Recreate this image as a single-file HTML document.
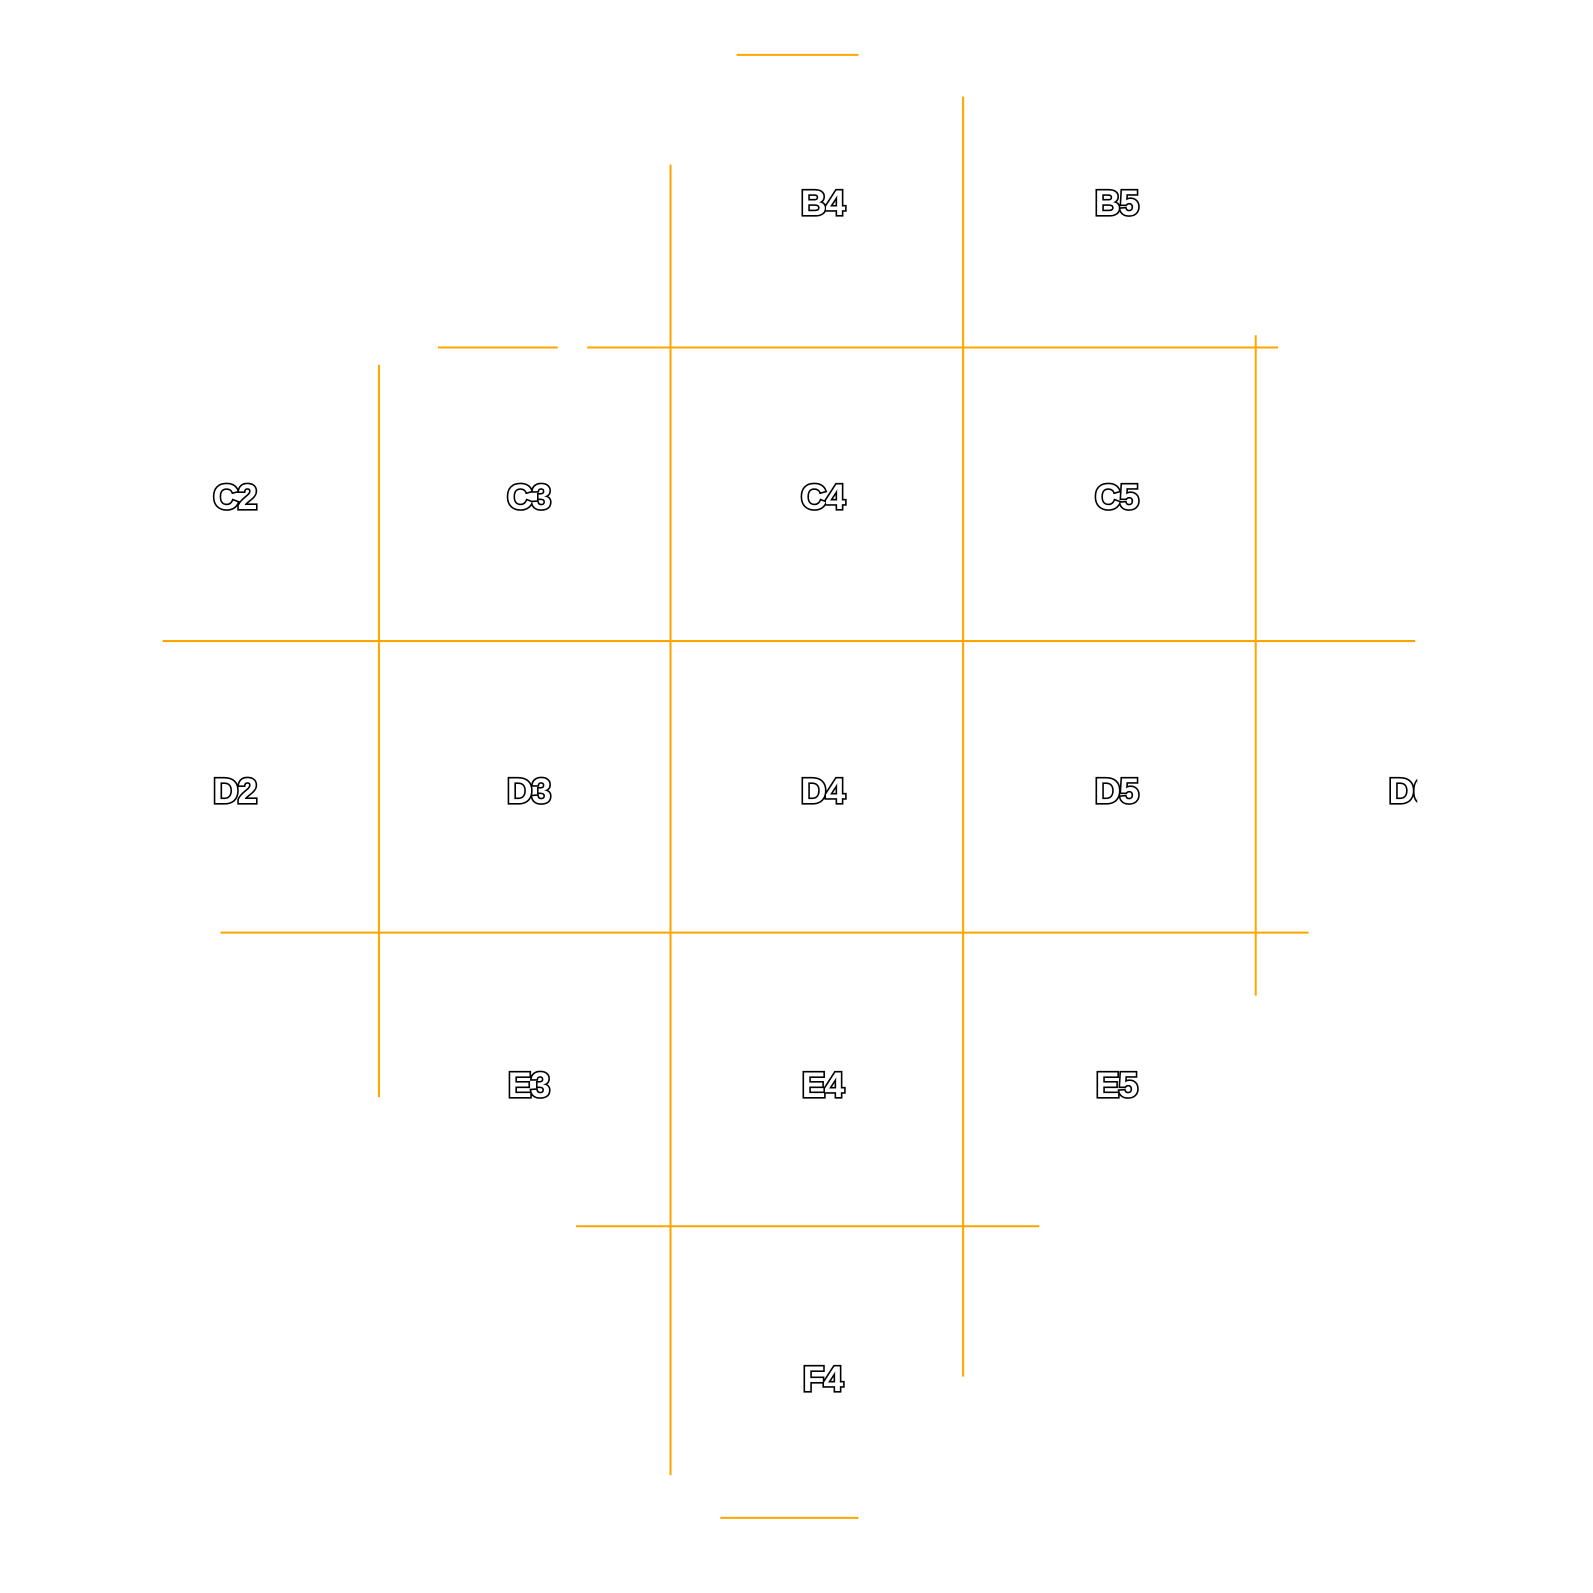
<!DOCTYPE html>
<html><head><meta charset="utf-8">
<style>
html,body{margin:0;padding:0;background:#fff;width:1593px;height:1593px;overflow:hidden}
svg{display:block}
.lbl{font-family:"Liberation Sans",sans-serif;font-weight:bold;font-size:35px;fill:#fff;stroke:#000;stroke-width:3.2px;paint-order:stroke;text-anchor:middle;dominant-baseline:central;letter-spacing:-1px}
</style></head>
<body>
<svg id="chart" width="1593" height="1593" viewBox="0 0 1593 1593" xmlns="http://www.w3.org/2000/svg">
<defs><clipPath id="clip"><rect x="0" y="0" width="1395" height="1593"/></clipPath></defs>
<g transform="scale(1.01595)">
<g id="lines"></g>
<g id="labels" clip-path="url(#clip)"></g>
</g>
</svg>
<script>
const colEdges = [373, 660, 948, 1236];
const rowEdges = [54, 342, 631, 918, 1207, 1494];
const hRows = [0, 1, 1, 2, 3, 4, 5];
const hStart = [725, 431, 578, 160, 217, 567, 709];
const hEnd = [845, 549, 1258, 1393, 1288, 1023, 845];
const vCols = [0, 1, 2, 3];
const vStart = [359, 162, 95, 330];
const vEnd = [1080, 1452, 1355, 980];
const labelNames = ["B4","B5","C2","C3","C4","C5","D2","D3","D4","D5","D6","E3","E4","E5","F4"];
const labelCols = [4,5,2,3,4,5,2,3,4,5,6,3,4,5,4];
const labelRows = [2,2,3,3,3,3,4,4,4,4,4,5,5,5,6];

const NS = "http://www.w3.org/2000/svg";
const lx = c => 231 + (c - 2) * 289.3;
const ly = r => 200 + (r - 2) * 289.3;
const lines = document.getElementById('lines');
const labels = document.getElementById('labels');
hRows.forEach((r, i) => {
  const l = document.createElementNS(NS, 'line');
  l.setAttribute('x1', hStart[i]); l.setAttribute('x2', hEnd[i]);
  l.setAttribute('y1', rowEdges[r]); l.setAttribute('y2', rowEdges[r]);
  l.setAttribute('stroke', '#FFA500'); l.setAttribute('stroke-width', '2');
  
  
  lines.appendChild(l);
});
vCols.forEach((c, i) => {
  const l = document.createElementNS(NS, 'line');
  l.setAttribute('x1', colEdges[c]); l.setAttribute('x2', colEdges[c]);
  l.setAttribute('y1', vStart[i]); l.setAttribute('y2', vEnd[i]);
  l.setAttribute('stroke', '#FFA500'); l.setAttribute('stroke-width', '2');
  
  
  lines.appendChild(l);
});
labelNames.forEach((n, i) => {
  const t = document.createElementNS(NS, 'text');
  t.setAttribute('x', lx(labelCols[i]));
  t.setAttribute('y', ly(labelRows[i]));
  t.setAttribute('class', 'lbl');
  t.textContent = n;
  
  
  labels.appendChild(t);
});
</script>
</body></html>
